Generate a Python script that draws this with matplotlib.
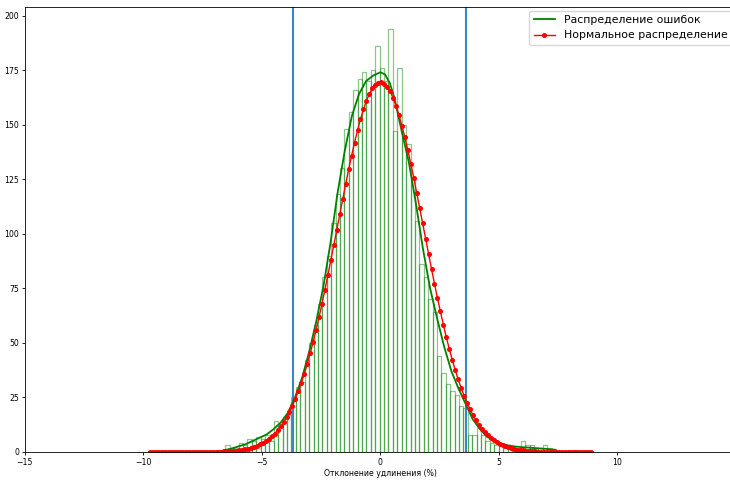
import numpy as np
import matplotlib.pyplot as plt

# histogram of errors: 100 bins between min and max error
err_min, err_max = -9.7, 8.9
counts = [0, 0, 0, 0, 0, 0, 0, 0, 0, 0,
          0, 0, 0, 0, 0, 1, 1, 3, 2, 2,
          4, 3, 6, 5, 7, 6, 8, 5, 14, 12,
          16, 17, 25, 30, 32, 42, 50, 58, 68, 80,
          90, 105, 118, 130, 148, 156, 166, 171, 174, 170,
          175, 186, 176, 170, 194, 147, 176, 150, 141, 125,
          106, 86, 80, 70, 64, 44, 36, 31, 28, 26,
          21, 20, 8, 8, 11, 8, 5, 4, 3, 3,
          2, 2, 2, 2, 5, 3, 3, 2, 2, 3,
          2, 1, 0, 0, 0, 0, 0, 0, 0, 0]

# smoothed error distribution (green line)
smooth_x = [-6.6, -6.3, -6.0, -5.7, -5.4, -5.1, -4.8, -4.5, -4.2, -3.9, -3.6, -3.3,
            -3.0, -2.7, -2.4, -2.1, -1.8, -1.5, -1.2, -0.9, -0.6, -0.3, 0.0, 0.2,
            0.4, 0.6, 0.9, 1.2, 1.5, 1.8, 2.1, 2.4, 2.7, 3.0, 3.3, 3.6, 3.9, 4.2,
            4.5, 4.8, 5.1, 5.4, 5.7, 6.0, 6.5, 7.0, 7.4]
smooth_y = [0.8, 1.5, 2.5, 3.5, 5, 6.5, 8, 10.5, 13.5, 18, 25, 34,
            46, 60, 76, 96, 119, 138, 154, 164, 170, 172.5, 174, 173,
            169, 162, 147, 133, 114, 93, 75, 61, 48, 37, 29, 22, 15, 10.5,
            7, 5, 3.7, 3, 2.5, 2.2, 1.8, 1.4, 1.0]

# normal distribution (red dots), 150 points between min and max error
normal_y = [0] * 14 + [
    0.01, 0.02, 0.02, 0.03, 0.04, 0.05, 0.07, 0.09, 0.11, 0.15,
    0.19, 0.25, 0.32, 0.40, 0.51, 0.64, 0.80, 1.00, 1.25, 1.54,
    1.90, 2.32, 2.83, 3.44, 4.16, 5.00, 5.98, 7.13, 8.46, 9.98,
    11.72, 13.70, 15.92, 18.44, 21.29, 24.41, 27.88, 31.65, 35.80, 40.32,
    45.21, 50.43, 55.98, 61.82, 67.99, 74.43, 81.11, 87.94, 94.92, 101.9,
    108.9, 116.0, 122.8, 129.5, 135.8, 141.8, 147.4, 152.5, 157.0, 160.9,
    164.1, 166.6, 168.3, 169.3, 169.5, 168.8, 167.4, 165.2, 162.3, 158.7,
    154.4, 149.5, 144.2, 138.3, 132.1, 125.6, 118.8, 111.8, 104.8, 97.8,
    90.8, 83.9, 77.1, 70.6, 64.4, 58.3, 52.6, 47.3, 42.3, 37.7,
    33.3, 29.4, 25.8, 22.5, 19.6, 16.9, 14.6, 12.5, 10.7, 9.05,
    7.65, 6.44, 5.39, 4.49, 3.72, 3.07, 2.52, 2.06, 1.68, 1.36,
    1.10, 0.88, 0.70, 0.56, 0.44, 0.35, 0.27, 0.21, 0.16, 0.13,
    0.10, 0.07, 0.06, 0.04, 0.03, 0.02, 0.02, 0.01] + [0] * 8

# +-2 sigma borders
sigma_lines = [-3.68, 3.60]

edges = np.linspace(err_min, err_max, len(counts) + 1)
normal_x = np.linspace(err_min, err_max, len(normal_y))

fig = plt.figure(figsize=(7.3, 4.86), dpi=100)
# the right edge of the axes is cut off by the picture border
ax = fig.add_axes([0.034, 0.070, 0.974, 0.916])

ax.bar(edges[:-1], counts, width=np.diff(edges), align='edge',
       facecolor='none', edgecolor='green', alpha=0.45, linewidth=0.9)
for xv in sigma_lines:
    ax.axvline(xv, color='#3a86c4', linewidth=1.5)
ax.plot(smooth_x, smooth_y, color='green', linewidth=1.3, label='Распределение ошибок')
ax.plot(normal_x, normal_y, color='red', linewidth=1.0, marker='o', markersize=2.6,
        label='Нормальное распределение')

ax.set_xlim(-15, 15)
ax.set_ylim(0, 204)
ax.set_xticks([-15, -10, -5, 0, 5, 10])
ax.set_yticks(range(0, 201, 25))
ax.tick_params(labelsize=5.6, length=2.5, width=0.6, pad=1.5)
for s in ax.spines.values():
    s.set_linewidth(0.6)
ax.set_xlabel('Отклонение удлинения (%)', fontsize=5.6, labelpad=2)
ax.legend(loc='upper right', fontsize=7.8, borderaxespad=0.35)

fig.savefig('out.png', dpi=100)
